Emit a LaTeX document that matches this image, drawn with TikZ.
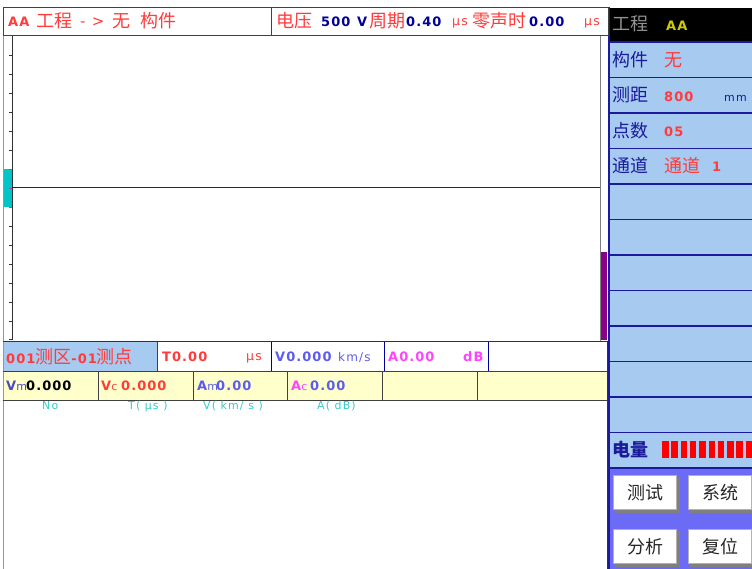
\documentclass[tikz,border=0pt]{standalone}
\usepackage{fontspec}
\newfontfamily\cjk{Noto Sans CJK SC}
\newfontfamily\pixb{DejaVu Sans}[LetterSpace=8]
\newfontfamily\pixr{DejaVu Sans}[LetterSpace=10]
\definecolor{txtred}{HTML}{FF3B3B}
\definecolor{navy}{HTML}{000099}
\definecolor{hline}{HTML}{1A1AA0}
\definecolor{panelblue}{HTML}{A6CAF0}
\definecolor{linenavy}{HTML}{1A1A9A}
\definecolor{btnbg}{HTML}{6B6BF5}
\definecolor{lilac}{HTML}{5C5CF0}
\definecolor{mag}{HTML}{FF44FF}
\definecolor{cream}{HTML}{FFFFCC}
\definecolor{cyantxt}{HTML}{33CCCC}
\definecolor{purplebar}{HTML}{8B008B}
\definecolor{markcyan}{HTML}{00C4C8}
\definecolor{edgelilac}{HTML}{8C8CF0}
\definecolor{yel}{HTML}{CCCC00}
\newcommand\pxb[1]{{\pixb\bfseries\fontsize{13}{13}\selectfont #1}}
\newcommand\pxr[1]{{\pixr\fontsize{12}{12}\selectfont #1}}
\newcommand\pxs[1]{{\pixr\fontsize{11}{11}\selectfont #1}}
\newcommand\pxu[1]{{\pixr\fontsize{12.5}{12.5}\selectfont #1}}
\newcommand\ck[1]{{\cjk\fontsize{18}{18}\selectfont #1}}
\tikzset{
  lbl/.style={inner sep=0pt, anchor=west},
  btn/.style={fill=white, draw=gray!60, line width=1.2pt, minimum width=63pt, minimum height=34pt, inner sep=0pt, text=black!85, font=\cjk\fontsize{18}{18}\selectfont},
  rowline/.style={linenavy, line width=1.2pt},
  cell/.style={black!75, line width=1pt}
}
\begin{document}
\begin{tikzpicture}[x=1pt,y=-1pt]
\useasboundingbox (0,0) rectangle (752,569);
\fill[white] (0,0) rectangle (752,569);
% right panel
\fill[panelblue] (609,8) rectangle (752,468);
\fill[black] (609,8) rectangle (752,42);
\fill[btnbg] (609,468) rectangle (752,569);
\foreach \yy in {42,77.5,113,148.5,184,219.5,255,290.5,326,361.5,397,432.5,468}
  \draw[rowline] (609,\yy) -- (752,\yy);
\draw[linenavy, line width=1.5pt] (609,7) -- (609,569);
% header
\draw[cell] (3,7.5) rectangle (608,36);
\draw[cell] (271,7.5) -- (271,36);
% left border
\draw[edgelilac, line width=1pt] (3.5,36) -- (3.5,569);
% plot frame
\draw[gray, line width=1pt] (600,36) -- (600,341);
\fill[purplebar] (600.5,252) rectangle (607,340);
\draw[black!80, line width=1pt] (12,36) -- (12,339) -- (8.5,339);
\foreach \k in {0,...,14}
  \draw[black!80, line width=0.8pt] (8.5,55+19*\k) -- (12,55+19*\k);
\fill[markcyan] (4,169) rectangle (12,207);
\foreach \yy in {169,188,207}
  \draw[mag!80!black, line width=0.8pt] (8.5,\yy) -- (12,\yy);
\draw[hline, line width=1pt] (12,187.5) -- (600,187.5);
% bottom table
\fill[panelblue] (4,342) rectangle (157,371);
\fill[cream] (4,371) rectangle (607,400);
\draw[black!80, line width=1.5pt] (3,341.5) -- (608,341.5);
\draw[cell] (3,371) -- (607,371);
\draw[cell] (3,400) -- (607,400);
\draw[cell] (157,342) -- (157,371);
\foreach \xx in {271,384,488}
  \draw[navy, line width=1pt] (\xx,342) -- (\xx,371);
\foreach \xx in {98,193,287,382,477}
  \draw[cell] (\xx,371) -- (\xx,400);
\draw[black!80, line width=1pt] (607,342) -- (607,569);
% header texts
\node[lbl, text=txtred] (hAA) at (8,22) {\pxb{AA}};
\node[lbl, text=txtred] (hgc) at (36,21) {\ck{工程}};
\node[lbl, text=txtred] (harr) at (80,22) {{\pixr\fontsize{15}{15}\selectfont - >}};
\node[lbl, text=txtred] (hwu) at (112,21) {\ck{无}};
\node[lbl, text=txtred] (hgj) at (140,21) {\ck{构件}};
\node[lbl, text=txtred] (hdy) at (276,21) {\ck{电压}};
\node[lbl, text=navy] (h500) at (321,22) {\pxb{500}};
\node[lbl, text=navy] (hV) at (357,22) {\pxb{V}};
\node[lbl, text=txtred] (hzq) at (369,21) {\ck{周期}};
\node[lbl, text=navy] (hzqv) at (406,22) {\pxb{0.40}};
\node[lbl, text=txtred] (hus1) at (452,23) {\pxu{μs}};
\node[lbl, text=txtred] (hlss) at (472,21) {\ck{零声时}};
\node[lbl, text=navy] (hlssv) at (529,22) {\pxb{0.00}};
\node[lbl, text=txtred] (hus2) at (584,23) {\pxu{μs}};
% right panel texts
\node[lbl, text=gray!85] (pgc) at (612,24) {\ck{工程}};
\node[lbl, text=yel] (pAA) at (666,26) {\pxb{AA}};
\node[lbl, text=linenavy] (pgj) at (612,60) {\ck{构件}};
\node[lbl, text=txtred] (pwu) at (664,60) {\ck{无}};
\node[lbl, text=linenavy] (pcj) at (612,95) {\ck{测距}};
\node[lbl, text=txtred] (p800) at (664,97) {\pxb{800}};
\node[lbl, text=linenavy] (pmm) at (724,98) {\pxs{mm}};
\node[lbl, text=linenavy] (pds) at (612,131) {\ck{点数}};
\node[lbl, text=txtred] (p05) at (664,132) {\pxb{05}};
\node[lbl, text=linenavy] (ptd) at (612,166) {\ck{通道}};
\node[lbl, text=txtred] (ptdv) at (664,166) {\ck{通道}};
\node[lbl, text=txtred] (ptd1) at (712,167) {\pxb{1}};
\node[lbl, text=linenavy] (pdl) at (612,450) {\cjk\bfseries\fontsize{18}{18}\selectfont 电量};
\foreach \i in {0,...,9}
  \fill[red] (662+9.3*\i,441) rectangle (668.5+9.3*\i,458);
% buttons
\fill[gray] (615,477) rectangle (680,513);
\node[btn] (b1) at (645,492.5) {测试};
\fill[gray] (690,477) rectangle (755,513);
\node[btn] (b2) at (720,492.5) {系统};
\fill[gray] (615,531) rectangle (680,567);
\node[btn] (b3) at (645,546.5) {分析};
\fill[gray] (690,531) rectangle (755,567);
\node[btn] (b4) at (720,546.5) {复位};
% row 1 texts
\node[lbl, text=txtred] (r1a) at (6,357) {\pxb{001}\ck{测区}\pxb{-01}\ck{测点}};
\node[lbl, text=txtred] (r1t) at (162,357) {\pxb{T0.00}};
\node[lbl, text=txtred] (r1tu) at (246,358) {\pxu{μs}};
\node[lbl, text=lilac] (r1v) at (275,357) {\pxb{V0.000}};
\node[lbl, text=lilac] (r1vu) at (338,357) {\pxr{km/s}};
\node[lbl, text=mag] (r1a2) at (388,357) {\pxb{A0.00}};
\node[lbl, text=mag] (r1au) at (463,357) {\pxb{dB}};
% row 2 texts
\node[lbl, text=lilac!80!black] (r2vm) at (6,386) {\pxb{V}\pxs{m}};
\node[lbl, text=black] (r2vmv) at (26,386) {\pxb{0.000}};
\node[lbl, text=txtred] (r2vc) at (101,386) {\pxb{V}\pxs{c}};
\node[lbl, text=txtred] (r2vcv) at (121,386) {\pxb{0.000}};
\node[lbl, text=lilac] (r2am) at (197,386) {\pxb{A}\pxs{m}};
\node[lbl, text=lilac] (r2amv) at (216,386) {\pxb{0.00}};
\node[lbl, text=mag] (r2ac) at (291,386) {\pxb{A}\pxs{c}};
\node[lbl, text=lilac] (r2acv) at (310,386) {\pxb{0.00}};
% column headers
\node[lbl, text=cyantxt] (cno) at (42,406) {\pxs{No}};
\node[lbl, text=cyantxt] (ct) at (128,406) {\pxs{T( μs )}};
\node[lbl, text=cyantxt] (cv) at (203,406) {\pxs{V( km/ s )}};
\node[lbl, text=cyantxt] (ca) at (317,406) {\pxs{A( dB)}};
\end{tikzpicture}
\end{document}
